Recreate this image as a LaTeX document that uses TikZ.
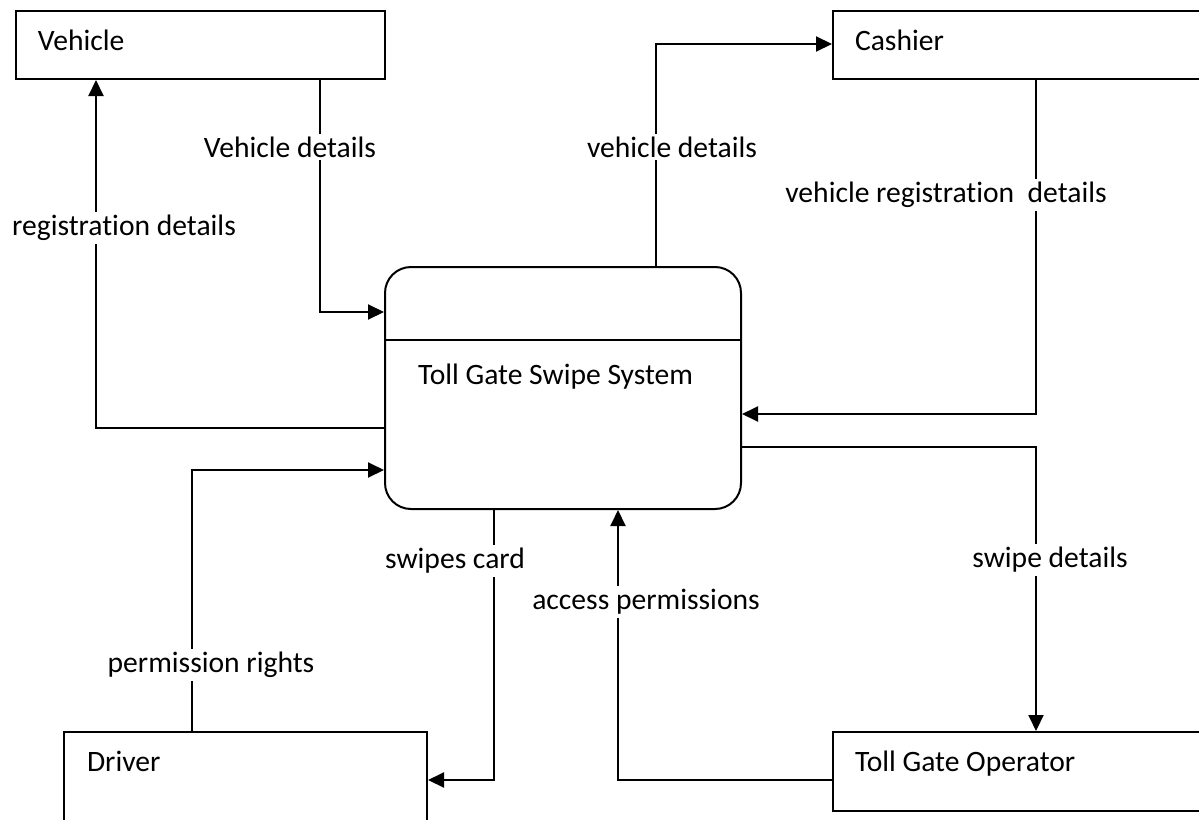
\documentclass[tikz,border=0pt]{standalone}
\usepackage{fontspec}
\setmainfont{Carlito}[Ligatures=NoCommon]
\usepackage{tikz}
\usetikzlibrary{arrows.meta}

\begin{document}
\begin{tikzpicture}[
  x=0.5pt, y=-0.5pt,
  font=\fontsize{14.8}{17}\selectfont,
  entity/.style={draw, line width=1pt, anchor=north west, align=flush left,
                 inner xsep=11pt, inner ysep=0pt, text height=19.5pt},
  process/.style={entity, rounded corners=13pt},
  flow/.style={line width=1pt, -{Triangle[length=8pt,width=7.5pt]}},
  lbl/.style={fill=white, inner sep=1.5pt},
]
\useasboundingbox (0,0) rectangle (1199,819);
\clip (0,0) rectangle (1199,819);

\node[entity, text width=162.5pt, text depth=14.5pt] (vehicle) at (15,10) {Vehicle};
\node[entity, text width=180pt, text depth=14.5pt] (cashier) at (832,10) {Cashier};
\node[process, text width=145pt, inner xsep=16.5pt, text height=58.5pt, text depth=62.5pt] (sys) at (384,266) {Toll Gate Swipe System};
\node[entity, text width=158.5pt, inner xsep=11.5pt, text depth=30pt] (driver) at (63,731) {Driver};
\node[entity, text width=180pt, text depth=20pt] (operator) at (832,731) {Toll Gate Operator};

\draw[line width=1pt] (sys.west |- 0,340) -- (sys.east |- 0,340);

\draw[flow] (vehicle.south -| 320,0) |- (sys.west |- 0,312)
  node[lbl] at (290,147) {Vehicle details};
\draw[flow] (sys.west |- 0,428) -| (vehicle.south -| 96,0)
  node[lbl] at (124,228) {registration details};
\draw[flow] (sys.north -| 656,0) |- (cashier.west |- 0,44)
  node[lbl] at (672,147) {vehicle details};
\draw[flow] (cashier.south -| 1036,0) |- (sys.east |- 0,414)
  node[lbl] at (946,195) {vehicle registration~ details};
\draw[flow] (sys.east |- 0,447) -| (operator.north -| 1036,0)
  node[lbl] at (1050,560) {swipe details};
\draw[flow] (operator.west |- 0,780) -| (sys.south -| 618,0)
  node[lbl] at (646,602) {access permissions};
\draw[flow] (sys.south -| 494,0) |- (driver.east |- 0,780)
  node[lbl] at (455,561) {swipes card};
\draw[flow] (driver.north -| 192,0) |- (sys.west |- 0,470)
  node[lbl] at (211,665) {permission rights};
\end{tikzpicture}
\end{document}
